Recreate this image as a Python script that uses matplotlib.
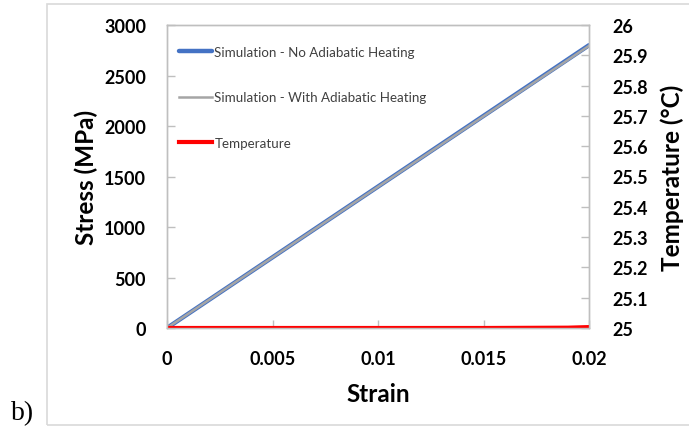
import matplotlib.pyplot as plt
from matplotlib.patches import Rectangle
from matplotlib.ticker import FuncFormatter

# Stress-strain response from simulation, with and without adiabatic heating
strain = [0.0, 0.005, 0.01, 0.015, 0.02]
stress_no_heating = [0, 700, 1400, 2100, 2800]
stress_with_heating = [0, 699, 1398, 2096, 2794]

# Temperature rise over the same strain range
temp_strain = [0.0, 0.005, 0.01, 0.015, 0.019, 0.02]
temperature = [25.0, 25.0, 25.0, 25.0, 25.001, 25.003]

stress_ticks = [0, 500, 1000, 1500, 2000, 2500, 3000]
strain_ticks = [0, 0.005, 0.01, 0.015, 0.02]
temp_ticks = [25 + i / 10 for i in range(11)]

plt.rcParams["font.family"] = ["Lato", "DejaVu Sans"]

fig = plt.figure(figsize=(6.89, 4.35), dpi=100)
fig.patches.append(Rectangle((47 / 689, 1 - 426 / 435), 645 / 689, 421 / 435,
                             transform=fig.transFigure, fill=False,
                             edgecolor="#D9D9D9", linewidth=1.2))

ax = fig.add_axes([167 / 689, 1 - 329 / 435, 422 / 689, 303 / 435])
ax2 = ax.twinx()

ax.plot(strain, stress_no_heating, color="#4472C4", linewidth=3.2,
        label="Simulation - No Adiabatic Heating", solid_capstyle="round")
ax.plot(strain, stress_with_heating, color="#A5A5A5", linewidth=1.8,
        label="Simulation - With Adiabatic Heating")
ax2.plot(temp_strain, temperature, color="#FF0000", linewidth=3.0,
         label="Temperature")

ax.set_xlim(0, 0.02)
ax.set_ylim(0, 3000)
ax2.set_ylim(25, 26)
ax.set_xticks(strain_ticks)
ax.set_yticks(stress_ticks)
ax2.set_yticks(temp_ticks)
ax.xaxis.set_major_formatter(FuncFormatter(lambda v, p: f"{v:g}"))
ax2.yaxis.set_major_formatter(FuncFormatter(lambda v, p: f"{round(v, 1):g}"))

for a in (ax, ax2):
    for s in a.spines.values():
        s.set_color("#BFBFBF")
        s.set_linewidth(1.0)
    a.tick_params(direction="in", length=6, color="#BFBFBF", width=1.0,
                  labelsize=13)
    for lbl in a.get_xticklabels() + a.get_yticklabels():
        lbl.set_fontweight("bold")
ax.tick_params(axis="y", pad=15)
ax.tick_params(axis="x", pad=16)
ax2.tick_params(axis="y", pad=17)

ax.set_xlabel("Strain", fontsize=17.5, fontweight="bold", labelpad=11)
ax.set_ylabel("Stress (MPa)", fontsize=17.5, fontweight="bold", labelpad=4.5)
ax2.set_ylabel("Temperature (°C)", fontsize=17.5, fontweight="bold", labelpad=9)

handles = ax.get_legend_handles_labels()[0] + ax2.get_legend_handles_labels()[0]
labels = [h.get_label() for h in handles]
leg = ax2.legend(handles, labels, loc="upper left", bbox_to_anchor=(0.0, 0.97),
                 frameon=False, fontsize=9.6, handlelength=2.5, handletextpad=0.15,
                 labelspacing=2.5, borderaxespad=0.5)
for t in leg.get_texts():
    t.set_color("#404040")

fig.text(11 / 689, 1 - 414 / 435, "b)", fontsize=20,
         family=["Liberation Serif", "DejaVu Serif"], va="center")

fig.savefig("out.png", dpi=100)
